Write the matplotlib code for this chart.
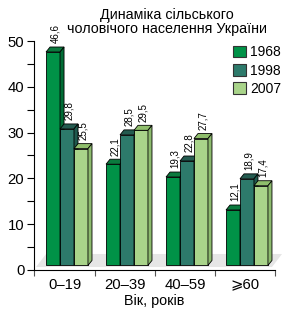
import matplotlib
matplotlib.use("Agg")
import matplotlib.pyplot as plt
from matplotlib.patches import Polygon, Patch

# data
groups = ["0–19", "20–39", "40–59", "⩾60"]
years = ["1968", "1998", "2007"]
v1968 = [46.6, 22.1, 19.3, 12.1]
v1998 = [29.8, 28.5, 22.8, 18.9]
v2007 = [25.5, 29.5, 27.7, 17.4]
labels1968 = ["46,6", "22,1", "19,3", "12,1"]
labels1998 = ["29,8", "28,5", "22,8", "18,9"]
labels2007 = ["25,5", "29,5", "27,7", "17,4"]

# colours: front, top, side
cols = [("#009247", "#0B7A3E", "#006C35"),
        ("#2D7A6B", "#245B50", "#1F5A4E"),
        ("#A9D48A", "#8FBE6C", "#8DBB6E")]

plt.rcParams['font.family'] = ['Liberation Sans', 'DejaVu Sans']

fig = plt.figure(figsize=(2.95, 3.13), dpi=100)
ax = fig.add_axes([0.1153, 0.1374, 0.8169, 0.7316])

width = 0.233
shift = 0.033
dx = 0.067   # depth of the fake 3d
dy = 1.09
base = 1.0

# floor
floor = Polygon([(-0.483, 0.65), (3.45, 0.65), (3.45 + 0.167, 3.5), (-0.483 + 0.167, 3.5)],
                closed=True, facecolor="#E6E6E6", edgecolor="none", zorder=1, clip_on=False)
ax.add_patch(floor)

series = [(v1968, labels1968), (v1998, labels1998), (v2007, labels2007)]
for g in range(len(groups)):
    for k, (vals, labs) in enumerate(series):
        z = 2 + k
        v = vals[g]
        xc = g + shift + (k - 1) * width
        x0 = xc - width / 2
        x1 = xc + width / 2
        front, top, side = cols[k]
        ax.bar(xc, v, width=width, bottom=base, color=front, edgecolor="black",
               linewidth=0.6, zorder=z)
        ax.add_patch(Polygon([(x0, base + v), (x1, base + v), (x1 + dx, base + v + dy),
                              (x0 + dx, base + v + dy)], closed=True, facecolor=top,
                             edgecolor="black", linewidth=0.6, zorder=z))
        ax.add_patch(Polygon([(x1, base), (x1 + dx, base + dy), (x1 + dx, base + v + dy),
                              (x1, base + v)], closed=True, facecolor=side,
                             edgecolor="black", linewidth=0.6, zorder=z))
        ax.text(xc + dx / 2, base + v + dy + 0.8, labs[g], rotation=90, ha="center",
                va="bottom", fontsize=7, zorder=10)

ax.set_xlim(-0.517, 3.5)
ax.set_ylim(0, 50)
ax.set_yticks([0, 10, 20, 30, 40, 50])
ax.set_yticks([5, 15, 25, 35, 45], minor=True)
ax.tick_params(axis="y", which="both", direction="out", length=5, width=0.8,
               labelsize=10.7, pad=2)
ax.set_xticks([-0.517, 0.5, 1.5, 2.5, 3.5])
ax.set_xticklabels([])
ax.tick_params(axis="x", which="major", direction="out", length=4, width=0.8, color="#555555")
ax.set_xticks(range(len(groups)), minor=True)
ax.set_xticklabels(groups, minor=True, fontsize=10.7)
ax.tick_params(axis="x", which="minor", length=0, pad=5.5)
ax.spines["top"].set_visible(False)
ax.spines["right"].set_visible(False)
ax.spines["left"].set_linewidth(0.8)
ax.spines["bottom"].set_linewidth(0.8)
ax.set_xlabel("Вік, років", fontsize=10.4, labelpad=2)

fig.text(0.566, 0.975, "Динаміка сільського\nчоловічого населення України",
         ha="center", va="top", fontsize=10.3, linespacing=1.05)

handles = [Patch(facecolor=cols[k][0], edgecolor="#333333", linewidth=0.8) for k in range(3)]
fig.legend(handles, years, loc="upper left", bbox_to_anchor=(0.79, 0.855), frameon=False,
           fontsize=10, handlelength=0.9, handleheight=0.9, labelspacing=0.3,
           handletextpad=0.35, borderpad=0, borderaxespad=0)

fig.savefig("out.png", dpi=100)
